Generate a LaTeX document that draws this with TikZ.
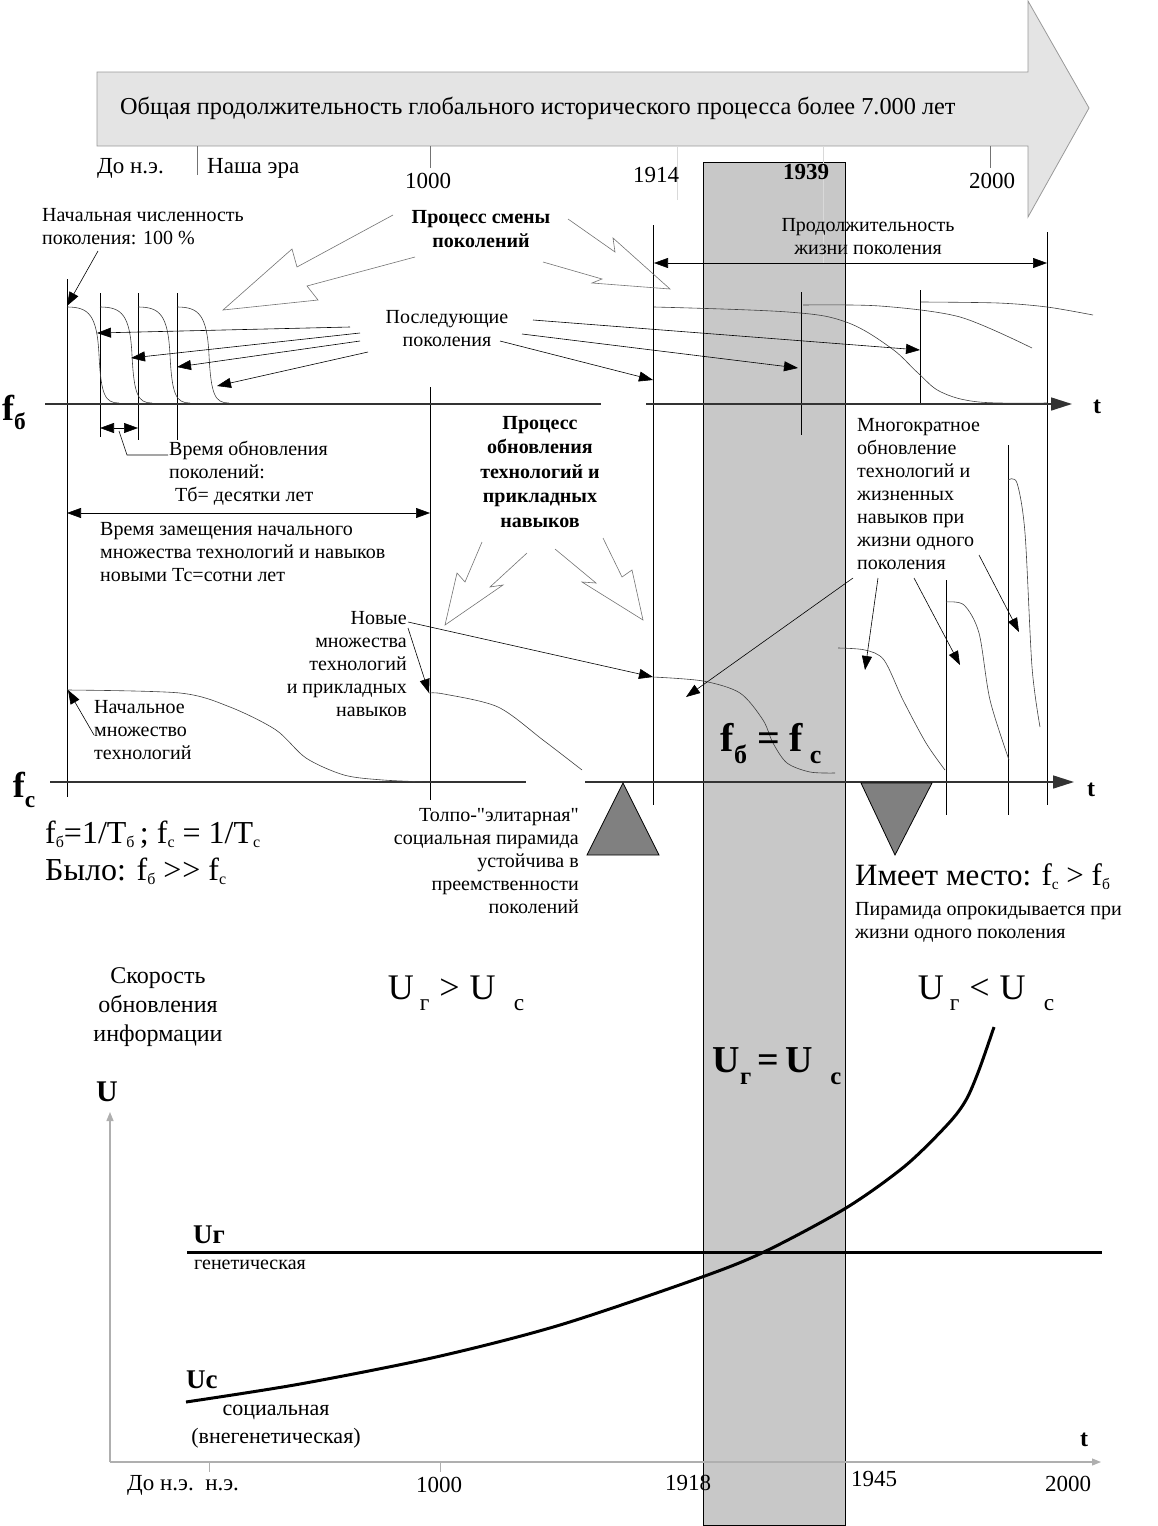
\documentclass[tikz,border=0pt]{standalone}
\usepackage{fontspec}
\setmainfont{Liberation Serif}[Ligatures=TeXOff]
\usetikzlibrary{arrows.meta}
\definecolor{bandgray}{RGB}{200,200,200}
\definecolor{bannergray}{RGB}{228,228,228}
\definecolor{pyramidgray}{RGB}{128,128,128}
\definecolor{chartgray}{RGB}{175,175,175}
\newcommand{\dnsub}[2][0.3]{\raisebox{-#1em}{\scalebox{0.65}{#2}}}
\newcommand{\smsub}[1]{\raisebox{-0.12em}{\scalebox{0.5}{#1}}}

\begin{document}
\begin{tikzpicture}[x=1pt, y=-1pt,
  txt/.style={font=\fontsize{20}{23}\selectfont, inner sep=0pt, align=#1},
  txt/.default=left,
  heading/.style={font=\fontsize{20}{24.5}\selectfont\bfseries, inner sep=0pt, align=center},
  yr/.style={font=\fontsize{23}{26}\selectfont, inner sep=0pt},
  tlbl/.style={font=\fontsize{24}{26}\selectfont\bfseries, inner sep=0pt},
  formula/.style={font=\fontsize{#1}{#1}\selectfont, inner sep=0pt},
  bformula/.style={font=\fontsize{#1}{#1}\selectfont\bfseries, inner sep=0pt},
  hair/.style={line width=0.6pt},
  gen/.style={line width=0.6pt, black!75},
  arr/.style={-{Triangle[length=14pt, width=10pt]}, line width=0.6pt},
  dblarr/.style={{Triangle[length=14pt, width=10pt]}-{Triangle[length=14pt, width=10pt]}, line width=0.6pt},
  blockarr/.style={draw=black!55, line width=0.6pt},
  taxis/.style={line width=1.6pt, black!80},
  uaxis/.style={line width=1.2pt, chartgray, -{Triangle[length=9pt, width=7pt]}},
  rate/.style={line width=3pt},
  pyramid/.style={fill=pyramidgray, draw=black, line width=0.8pt},
]
\useasboundingbox (0,0) rectangle (1157,1526);

\draw[fill=bandgray, line width=1pt] (703,162) rectangle (845,1525);

\draw[fill=bannergray, draw=black!40, line width=0.8pt]
  (97,72) -- (1028,72) -- (1028,1) -- (1089,108) -- (1028,217) -- (1028,146) -- (97,146) -- cycle;
\node[formula=24.3, anchor=west] (banner) at (120,108)
  {Общая продолжительность глобального исторического процесса более 7.000 лет};
\foreach \x/\y in {197/175, 430/168, 990/168}
  \draw[hair, black!55] (\x,146) -- (\x,\y);
\draw[hair, black!15] (677,146) -- (677,200);
\draw[hair, black!15] (823,146) -- (823,263);

\node[yr, anchor=west] (bce) at (97,168) {До н.э.};
\node[yr, anchor=west] (ce) at (207,168) {Наша эра};
\node[yr] (y1000) at (428,181) {1000};
\node[yr] (y1914) at (656,175) {1914};
\node[yr, font=\fontsize{23}{26}\selectfont\bfseries] (y1939) at (806,172) {1939};
\node[yr] (y2000) at (992,181) {2000};

\draw[hair] (67,279) -- (67,797);
\foreach \x/\y in {100/437, 138/440, 177/440}
  \draw[hair] (\x,293) -- (\x,\y);
\draw[hair] (430,387) -- (430,800);
\draw[hair] (653,225) -- (653,805);
\draw[hair] (801,292) -- (801,435);
\draw[hair] (920,290) -- (920,405);
\draw[hair] (1047,232) -- (1047,805);
\draw[hair] (946,580) -- (946,815);
\draw[hair] (1008,445) -- (1008,815);

\draw[taxis] (45,404) -- (601,404);
\draw[taxis, -{Triangle[length=21pt, width=13pt]}] (646,404) -- (1072,404);
\node[bformula=36] (fb) at (14,412) {f\dnsub[0.25]{б}};
\node[tlbl] (tb) at (1097,407) {t};

\foreach \x in {67,100,138,177}
  \draw[gen] (\x,307) .. controls ({\x+22},307) and ({\x+30},315) .. ({\x+32},355)
    .. controls ({\x+34},395) and ({\x+38},403) .. ({\x+52},403);
\draw[gen] plot[smooth, tension=0.6] coordinates
  {(654,307) (788,312) (846,322) (891,348) (918,373) (941,392) (979,402) (1047,403)};
\draw[gen] plot[smooth] coordinates {(803,305) (880,306) (960,317) (1032,348)};
\draw[gen] plot[smooth] coordinates {(921,302) (998,303) (1047,307) (1093,315)};

\node[txt, anchor=west] (initpop) at (42,227) {Начальная численность\\поколения: 100 \%};
\node[heading] (change) at (481,229) {Процесс смены\\поколений};
\node[txt=center] (succ) at (447,329) {Последующие\\поколения};
\node[txt=center] (life) at (868,237) {Продолжительность\\жизни поколения};

\draw[blockarr] (393,215) -- (297,267) -- (292,249) -- (223,310) -- (318,300) -- (307,286) -- (415,257);
\draw[blockarr] (568,219) -- (615,252) -- (613,238) -- (670,289) -- (592,283) -- (602,279) -- (543,262);

\coordinate (p0) at (98,251);  \coordinate (p1) at (67,306);
\coordinate (s1) at (350,327); \coordinate (g1) at (97,333);
\coordinate (s2) at (360,333); \coordinate (g2) at (131,358);
\coordinate (s3) at (360,341); \coordinate (g3) at (177,367);
\coordinate (s4) at (368,352); \coordinate (g4) at (217,386);
\coordinate (s5) at (533,320); \coordinate (g5) at (920,350);
\coordinate (s6) at (522,334); \coordinate (g6) at (798,368);
\coordinate (s7) at (500,341); \coordinate (g7) at (653,380);
\foreach \a/\b in {p0/p1, s1/g1, s2/g2, s3/g3, s4/g4, s5/g5, s6/g6, s7/g7}
  \draw[arr] (\a) -- (\b);

\coordinate (lifeL) at (654,263); \coordinate (lifeR) at (1047,263);
\draw[dblarr] (lifeL) -- (lifeR);

\coordinate (tbL) at (100,428); \coordinate (tbR) at (138,428);
\draw[dblarr] (tbL) -- (tbR);
\node[txt, anchor=west] (renew) at (169,473) {Время обновления\\поколений:\\\hspace*{6pt}Тб= десятки лет};
\draw[hair] (119,431) -- (127,455) -- (168,455);

\coordinate (tcL) at (67,513); \coordinate (tcR) at (430,513);
\draw[dblarr] (tcL) -- (tcR);
\node[txt, anchor=west] (replace) at (100,552)
  {Время замещения начального\\множества технологий и навыков\\новыми Тс=сотни лет};

\node[heading] (techproc) at (540,472) {Процесс\\обновления\\технологий и\\прикладных\\навыков};
\draw[blockarr] (482,542) -- (465,582) -- (457,573) -- (445,625) -- (503,585) -- (490,587) -- (527,553);
\draw[blockarr] (555,549) -- (596,583) -- (582,582) -- (643,620) -- (632,570) -- (622,577) -- (603,538);

\node[txt, anchor=west] (multi) at (857,494)
  {Многократное\\обновление\\технологий и\\жизненных\\навыков при\\жизни одного\\поколения};

\draw[taxis] (50,782) -- (526,782);
\draw[taxis, -{Triangle[length=21pt, width=13pt]}] (585,782) -- (1074,782);
\node[bformula=36] (fc) at (24,790) {f\dnsub[0.3]{c}};
\node[tlbl] (tc) at (1091,790) {t};

\draw[gen] plot[smooth] coordinates
  {(67,690) (180,693) (230,707) (276,730) (306,758) (344,775) (383,780) (429,782)};
\draw[gen] plot[smooth] coordinates {(429,693) (444,694) (498,707) (543,740) (582,770)};
\draw[gen] plot[smooth] coordinates
  {(653,677) (703,681) (740,693) (763,720) (773,743) (787,763) (810,772) (835,773)};
\draw[gen] plot[smooth] coordinates {(838,648) (865,650) (884,660) (903,700) (926,743) (945,770)};
\draw[gen] plot[smooth] coordinates {(946,602) (964,605) (979,633) (990,700) (1009,760)};
\draw[gen] plot[smooth] coordinates {(1008,480) (1017,483) (1025,533) (1032,667) (1040,727)};

\node[txt, anchor=west] (initset) at (94,730) {Начальное\\множество\\технологий};
\node[txt=right, anchor=east] (newset) at (407,664)
  {Новые\\множества\\технологий\\и прикладных\\навыков};

\coordinate (n0) at (94,735);  \coordinate (n1) at (68,690);
\coordinate (w0) at (408,628); \coordinate (w1) at (429,693);
\coordinate (w2) at (408,622); \coordinate (w3) at (653,677);
\coordinate (m0) at (853,578); \coordinate (m1) at (686,697);
\coordinate (m2) at (878,578); \coordinate (m3) at (865,670);
\coordinate (m4) at (914,578); \coordinate (m5) at (960,665);
\coordinate (m6) at (979,555); \coordinate (m7) at (1019,632);
\foreach \a/\b in {n0/n1, w0/w1, w2/w3, m0/m1, m2/m3, m4/m5, m6/m7}
  \draw[arr] (\a) -- (\b);

\node[bformula=40] (equal) at (771,744) {f\dnsub[0.3]{б} = f\,\dnsub[0.3]{c}};

\draw[pyramid] (623,783) -- (587,855) -- (659,855) -- cycle;
\draw[pyramid] (861,783) -- (932,783) -- (895,855) -- cycle;

\node[txt=right, anchor=east] (stable) at (579,861)
  {Толпо-"элитарная"\\социальная пирамида\\устойчива в\\преемственности\\поколений};
\node[font=\fontsize{32}{37}\selectfont, inner sep=0pt, align=left, anchor=west] (was) at (45,853)
  {f\smsub{б}=1/T\smsub{б}\,; f\smsub{с} = 1/T\smsub{с}\\Было: f\smsub{б} >\kern1pt> f\smsub{с}};
\node[formula=31, anchor=west] (now) at (855,877) {Имеет место: f\smsub{с} > f\smsub{б}};
\node[txt, anchor=west] (tips) at (855,922) {Пирамида опрокидывается при\\жизни одного поколения};

\node[font=\fontsize{24}{29}\selectfont, inner sep=0pt, align=center] (speed) at (158,1007)
  {Скорость\\обновления\\информации};
\node[formula=36] (ugt) at (456,993) {U\,\dnsub{г}\;>\;U\hspace{0.5em}\dnsub{с}};
\node[formula=36] (ult) at (986,993) {U\,\dnsub{г}\;<\;U\hspace{0.5em}\dnsub{с}};
\node[bformula=38] (ueq) at (777,1066) {U\dnsub{г}\,=\,U\hspace{0.45em}\dnsub{с}};

\draw[uaxis] (110,1462) -- (110,1112);
\draw[uaxis] (110,1462) -- (1101,1462);
\foreach \x in {209,440}
  \draw[line width=1pt, chartgray] (\x,1462) -- (\x,1472);
\node[bformula=30] (ulbl) at (107,1092) {U};
\node[tlbl] (tu) at (1084,1440) {t};

\draw[rate] (187,1252) -- (1102,1252);
\draw[rate] plot[smooth, tension=0.5] coordinates
  {(186,1402) (300,1384) (436,1357) (560,1325) (702,1277) (766,1251) (846,1208) (905,1166) (948,1124) (966,1100) (979,1070) (994,1027)};
\node[bformula=27, anchor=west] (ug) at (193,1235) {Uг};
\node[txt, anchor=west] (genet) at (194,1265) {генетическая};
\node[bformula=27, anchor=west] (uc) at (186,1380) {Uc};
\node[font=\fontsize{22}{28}\selectfont, inner sep=0pt, align=center] (social) at (276,1427)
  {социальная\\(внегенетическая)};

\node[yr, anchor=west] (bce2) at (127,1485) {До н.э.\ \ н.э.};
\node[yr] (b1000) at (439,1485) {1000};
\node[yr] (b1918) at (688,1483) {1918};
\node[yr] (b1945) at (874,1479) {1945};
\node[yr] (b2000) at (1068,1484) {2000};
\end{tikzpicture}
\end{document}
